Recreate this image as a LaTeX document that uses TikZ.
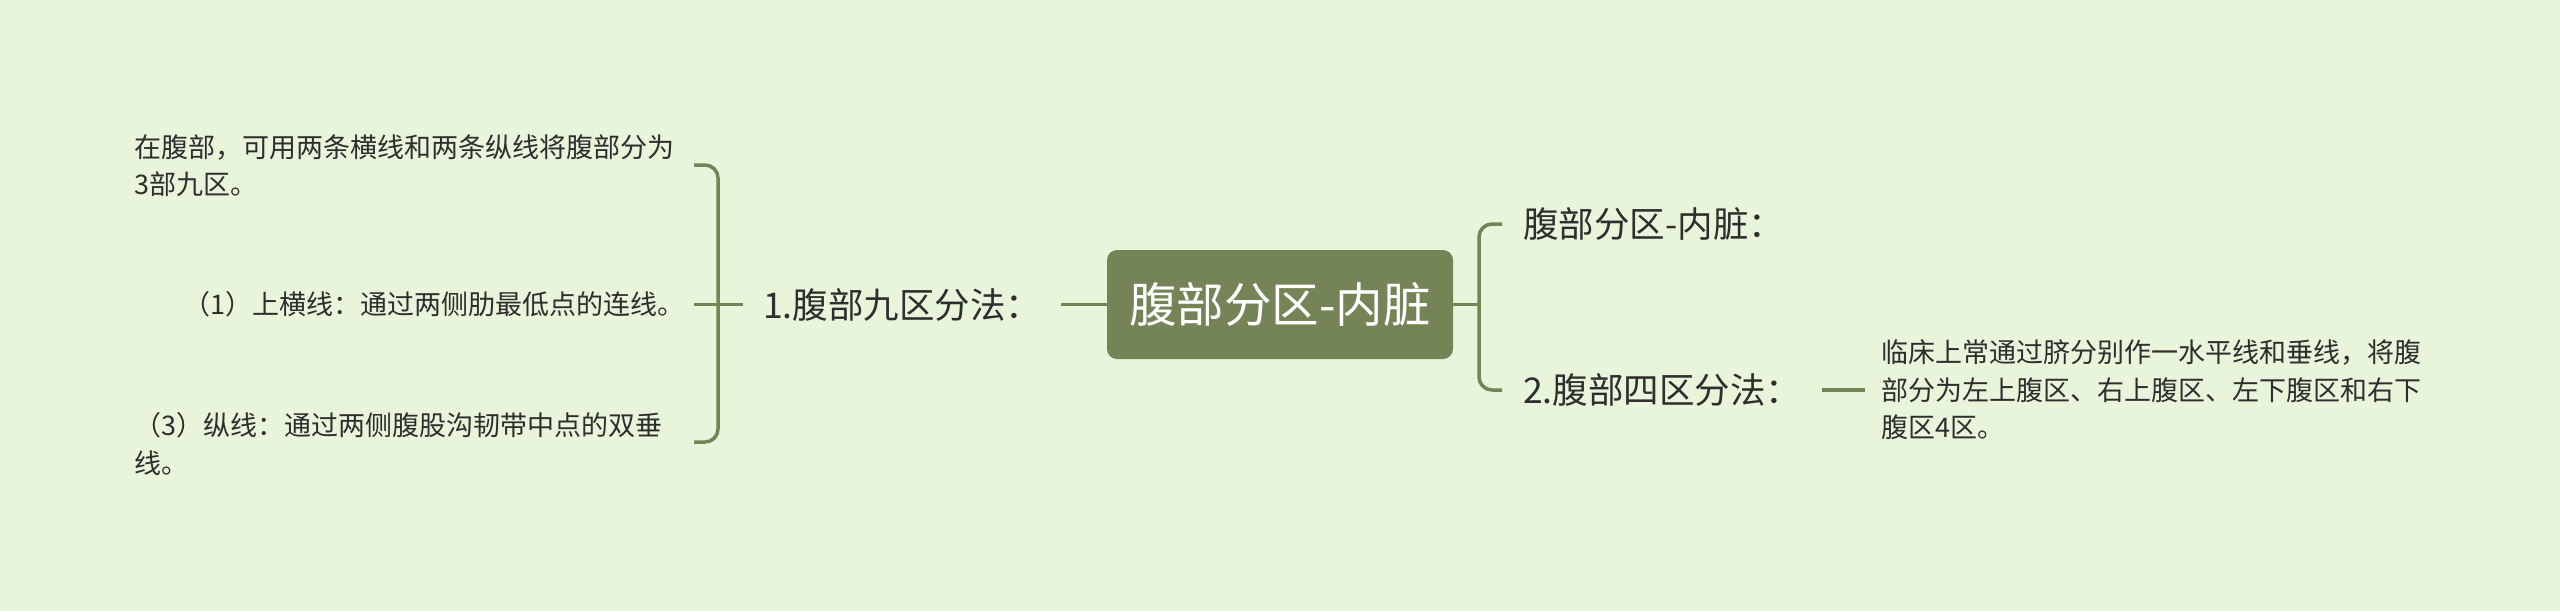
\documentclass[tikz,border=0pt]{standalone}
\usepackage{fontspec}
\newfontfamily\cjk{Noto Sans CJK SC}
\definecolor{bg}{HTML}{E8F5DB}
\definecolor{br}{HTML}{748456}
\definecolor{tx}{HTML}{2E2E2E}
\begin{document}
\begin{tikzpicture}[x=1pt,y=-1pt,
  conn/.style={draw=br, line width=3.5pt},
  brk/.style={draw=br, line width=3.5pt, rounded corners=13pt},
  rootbox/.style={fill=br, rounded corners=10pt, text=white, minimum width=346pt, minimum height=109pt, inner sep=0pt, font=\cjk\fontsize{47.5}{52}\selectfont},
  midtext/.style={text=tx, inner ysep=4pt, font=\cjk\fontsize{35.5}{40}\selectfont},
  leaftext/.style={text=tx, inner ysep=4pt, align=left, font=\cjk\fontsize{27}{37.5}\selectfont}]
\fill[bg] (0,0) rectangle (2560,611);
\useasboundingbox (0,0) rectangle (2560,611);

\node[rootbox] (root) at (1280,304.5) {腹部分区-内脏};

% left branch
\node[midtext, anchor=west, inner xsep=20pt] (n1) at (743,304.5) {1.腹部九区分法：};
\node[leaftext, anchor=west, inner xsep=7pt] (l1) at (127,165.5) {在腹部，可用两条横线和两条纵线将腹部分为\\3部九区。};
\node[leaftext, anchor=east, inner xsep=8pt] (l2) at (693,304.5) {（1）上横线：通过两侧肋最低点的连线。};
\node[leaftext, anchor=west, inner xsep=7pt] (l3) at (127,444) {（3）纵线：通过两侧腹股沟韧带中点的双垂\\线。};

\coordinate (lt) at (694,165);
\coordinate (lm) at (694,304.5);
\coordinate (lb) at (694,442);
\draw[conn] (root.west) -- (n1.east);
\draw[conn] (n1.west) -- (lm);
\draw[brk] (lt) -- (718,165) -- (718,442) -- (lb);

% right branch
\node[midtext, anchor=west, inner xsep=21pt] (r1) at (1502,224) {腹部分区-内脏：};
\node[midtext, anchor=west, inner xsep=21pt] (r2) at (1502,390) {2.腹部四区分法：};
\node[leaftext, anchor=west, inner xsep=16pt] (r3) at (1865,390) {临床上常通过脐分别作一水平线和垂线，将腹\\部分为左上腹区、右上腹区、左下腹区和右下\\腹区4区。};

\coordinate (rj) at (1479,304.5);
\draw[conn] (root.east) -- (rj);
\draw[brk] (r1.west) -- (1479,224) -- (1479,390) -- (r2.west);
\draw[conn] (r2.east) -- (r3.west);
\end{tikzpicture}
\end{document}
